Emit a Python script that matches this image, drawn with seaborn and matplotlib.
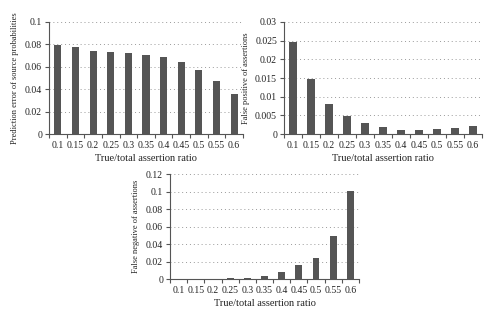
import matplotlib
matplotlib.use("Agg")
import matplotlib.pyplot as plt
import seaborn as sns
import pandas as pd
import numpy as np
from matplotlib.ticker import FixedLocator

ratios = ["0.1", "0.15", "0.2", "0.25", "0.3", "0.35", "0.4", "0.45", "0.5", "0.55", "0.6"]
pred_error = [0.0798, 0.0774, 0.0742, 0.0733, 0.0724, 0.0706, 0.0688, 0.0644, 0.0573, 0.0475, 0.0356]
false_pos = [0.0246, 0.0147, 0.0080, 0.0047, 0.0029, 0.0018, 0.0010, 0.0010, 0.0013, 0.0015, 0.0021]
false_neg = [0.0, 0.0, 0.0, 0.0008, 0.0015, 0.0038, 0.0076, 0.0164, 0.0240, 0.0490, 0.1005]

sns.set_theme(style="white")
plt.rcParams['font.family'] = ['Liberation Serif', 'DejaVu Serif']

fig = plt.figure(figsize=(5.0, 3.23), dpi=100)
specs = [
    ([0.098, 0.585, 0.388, 0.347], pred_error, "Prediction error of source probabilities", 0.1, [0, 0.02, 0.04, 0.06, 0.08, 0.1], ["0", "0.02", "0.04", "0.06", "0.08", "0.1"]),
    ([0.568, 0.585, 0.396, 0.347], false_pos, "False positive of assertions", 0.03, [0, 0.005, 0.01, 0.015, 0.02, 0.025, 0.03], ["0", "0.005", "0.01", "0.015", "0.02", "0.025", "0.03"]),
    ([0.340, 0.136, 0.378, 0.325], false_neg, "False negative of assertions", 0.12, [0, 0.02, 0.04, 0.06, 0.08, 0.1, 0.12], ["0", "0.02", "0.04", "0.06", "0.08", "0.1", "0.12"]),
]

for rect, vals, ylabel, ymax, yt, ytl in specs:
    ax = fig.add_axes(rect)
    df = pd.DataFrame({"ratio": ratios, "value": vals})
    sns.barplot(data=df, x="ratio", y="value", color="#555555", width=0.4,
                saturation=1, ax=ax, edgecolor="none")
    ax.set_xlim(-0.5, len(ratios) - 0.5)
    ax.set_ylim(0, ymax)
    ax.set_yticks(yt)
    ax.set_yticklabels(ytl, fontsize=7, color="#222222")
    ax.set_xticks(range(len(ratios)))
    ax.set_xticklabels(ratios, fontsize=7, color="#222222")
    ax.tick_params(axis="x", which="major", length=0, pad=5)
    ax.xaxis.set_minor_locator(FixedLocator(np.arange(-0.5, len(ratios), 1.0)))
    ax.tick_params(axis="x", which="minor", length=3, width=0.8, color="#555555", direction="out", bottom=True)
    ax.tick_params(axis="y", which="major", length=3, width=0.8, color="#555555", direction="out", left=True, pad=2)
    ax.set_xlabel("True/total assertion ratio", fontsize=7.5, color="#222222", labelpad=3)
    ax.set_ylabel(ylabel, fontsize=6, color="#222222", labelpad=4)
    for s in ["top", "right"]:
        ax.spines[s].set_visible(False)
    for s in ["left", "bottom"]:
        ax.spines[s].set_color("#555555")
        ax.spines[s].set_linewidth(0.8)
    ax.yaxis.grid(True, linestyle=(0, (1, 3)), color="#999999", linewidth=0.7)
    ax.set_axisbelow(True)

fig.savefig("out.png", dpi=100, facecolor="white")
